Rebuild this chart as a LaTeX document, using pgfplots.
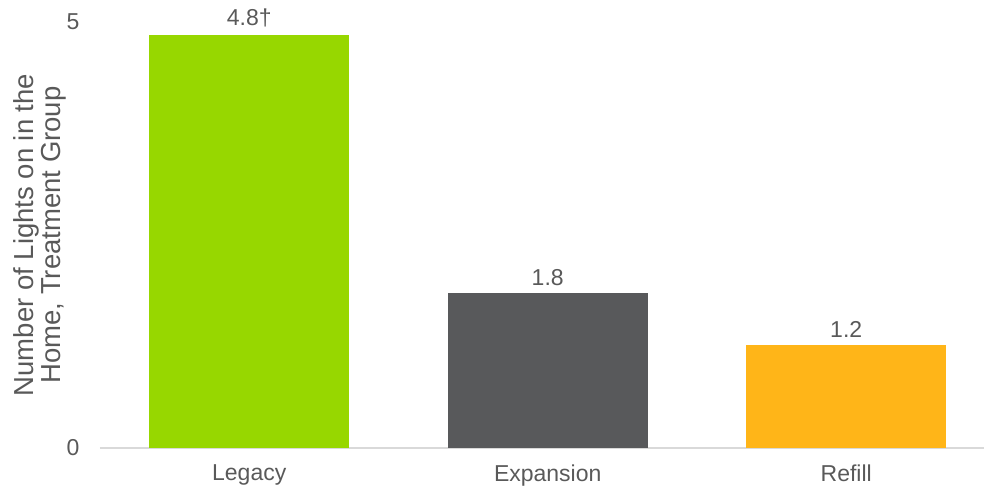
\documentclass[border=0pt]{standalone}
\usepackage{pgfplots}
\pgfplotsset{compat=1.18}
\usepackage{fontspec}
\setmainfont{Liberation Sans}
\definecolor{cgreen}{RGB}{151,215,0}
\definecolor{cgray}{RGB}{88,89,91}
\definecolor{corange}{RGB}{255,181,24}
\definecolor{ctext}{RGB}{89,89,89}
\definecolor{caxis}{RGB}{217,217,217}
\begin{document}
\begin{tikzpicture}[x=1pt,y=1pt]
\useasboundingbox (0,0) rectangle (984,490);
\begin{axis}[
  at={(100pt,42pt)}, anchor=south west,
  scale only axis, width=885pt, height=426pt,
  font=\fontsize{23}{28}\selectfont,
  /pgf/number format/assume math mode=true,
  ybar, bar shift=0pt, bar width=200pt,
  xmin=-0.5, xmax=2.465, ymin=0, ymax=5,
  xtick={0,1,2}, xticklabels={Legacy,Expansion,Refill},
  ytick={0,5},
  axis x line*=bottom, axis y line*=left,
  y axis line style={draw=none},
  x axis line style={draw=caxis, line width=1.2pt, -},
  major tick length=0pt, tick style={draw=none},
  ticklabel style={text=ctext},
  yticklabel style={xshift=-17pt},
  xticklabel style={yshift=-13pt},
  ylabel={Number of Lights on in the\\Home, Treatment Group},
  ylabel style={align=center, text=ctext, font=\fontsize{27.5}{27}\selectfont, at={(axis description cs:-0.068,0.5)}, anchor=center},
  clip=false,
  nodes near coords, point meta=explicit symbolic,
  every node near coord/.append style={text=ctext, yshift=4pt},
]
\addplot[fill=cgreen, draw=none] coordinates {(0,4.85) [4.8†]};
\addplot[fill=cgray, draw=none] coordinates {(1,1.82) [1.8]};
\addplot[fill=corange, draw=none] coordinates {(2,1.21) [1.2]};
\end{axis}
\end{tikzpicture}
\end{document}
